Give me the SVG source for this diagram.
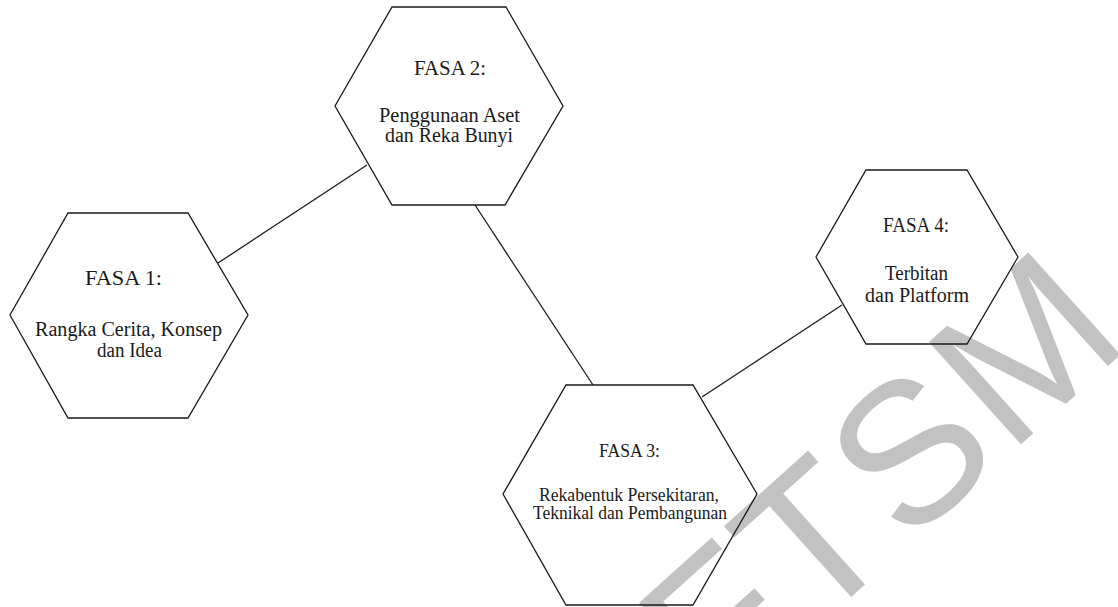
<svg xmlns="http://www.w3.org/2000/svg" width="1118" height="607" viewBox="0 0 1118 607">
<style>
.hex{fill:none;stroke:#1a1a1a;stroke-width:1.3}
.con{stroke:#1a1a1a;stroke-width:1.3;fill:none}
.t{font-family:"Liberation Serif","Times New Roman",serif;font-size:20px;fill:#1a1a1a}
.t3{font-size:18px}
.wm{font-family:"Liberation Sans",Arial,sans-serif;font-size:200px;fill:#c2c2c2;letter-spacing:4px}
</style>
<rect width="1118" height="607" fill="#ffffff"/>
<text class="wm" transform="translate(719,716) rotate(-42)">FTSM</text>
<g id="connectors">
<line class="con" x1="218" y1="263" x2="367" y2="165"/>
<line class="con" x1="475" y1="205" x2="593" y2="385"/>
<line class="con" x1="702" y1="397" x2="842" y2="305"/>
</g>
<g id="fasa1">
<polygon class="hex" points="68,213 188,213 248,315 188,418 68,418 10,315"/>
<text class="t" x="85" y="285" textLength="77" lengthAdjust="spacingAndGlyphs">FASA 1:</text>
<text class="t" x="35" y="336" textLength="187" lengthAdjust="spacingAndGlyphs">Rangka Cerita, Konsep</text>
<text class="t" x="97" y="357" textLength="65" lengthAdjust="spacingAndGlyphs">dan Idea</text>
</g>
<g id="fasa2">
<polygon class="hex" points="392,7 506,7 563,106 505,205 392,205 335,106"/>
<text class="t" x="414" y="75" textLength="72" lengthAdjust="spacingAndGlyphs">FASA 2:</text>
<text class="t" x="379" y="122" textLength="141" lengthAdjust="spacingAndGlyphs">Penggunaan Aset</text>
<text class="t" x="385" y="142" textLength="128" lengthAdjust="spacingAndGlyphs">dan Reka Bunyi</text>
</g>
<g id="fasa3">
<polygon class="hex" points="566,385 693,385 757,494 693,605 566,605 503,494"/>
<text class="t t3" x="599" y="457" textLength="61" lengthAdjust="spacingAndGlyphs">FASA 3:</text>
<text class="t t3" x="539" y="501" textLength="180" lengthAdjust="spacingAndGlyphs">Rekabentuk Persekitaran,</text>
<text class="t t3" x="533" y="519" textLength="194" lengthAdjust="spacingAndGlyphs">Teknikal dan Pembangunan</text>
</g>
<g id="fasa4">
<polygon class="hex" points="866,170 967,170 1018,257 967,344 866,344 816,257"/>
<text class="t" x="883" y="232" textLength="66" lengthAdjust="spacingAndGlyphs">FASA 4:</text>
<text class="t" x="885" y="280" textLength="63" lengthAdjust="spacingAndGlyphs">Terbitan</text>
<text class="t" x="865" y="302" textLength="104" lengthAdjust="spacingAndGlyphs">dan Platform</text>
</g>
</svg>
